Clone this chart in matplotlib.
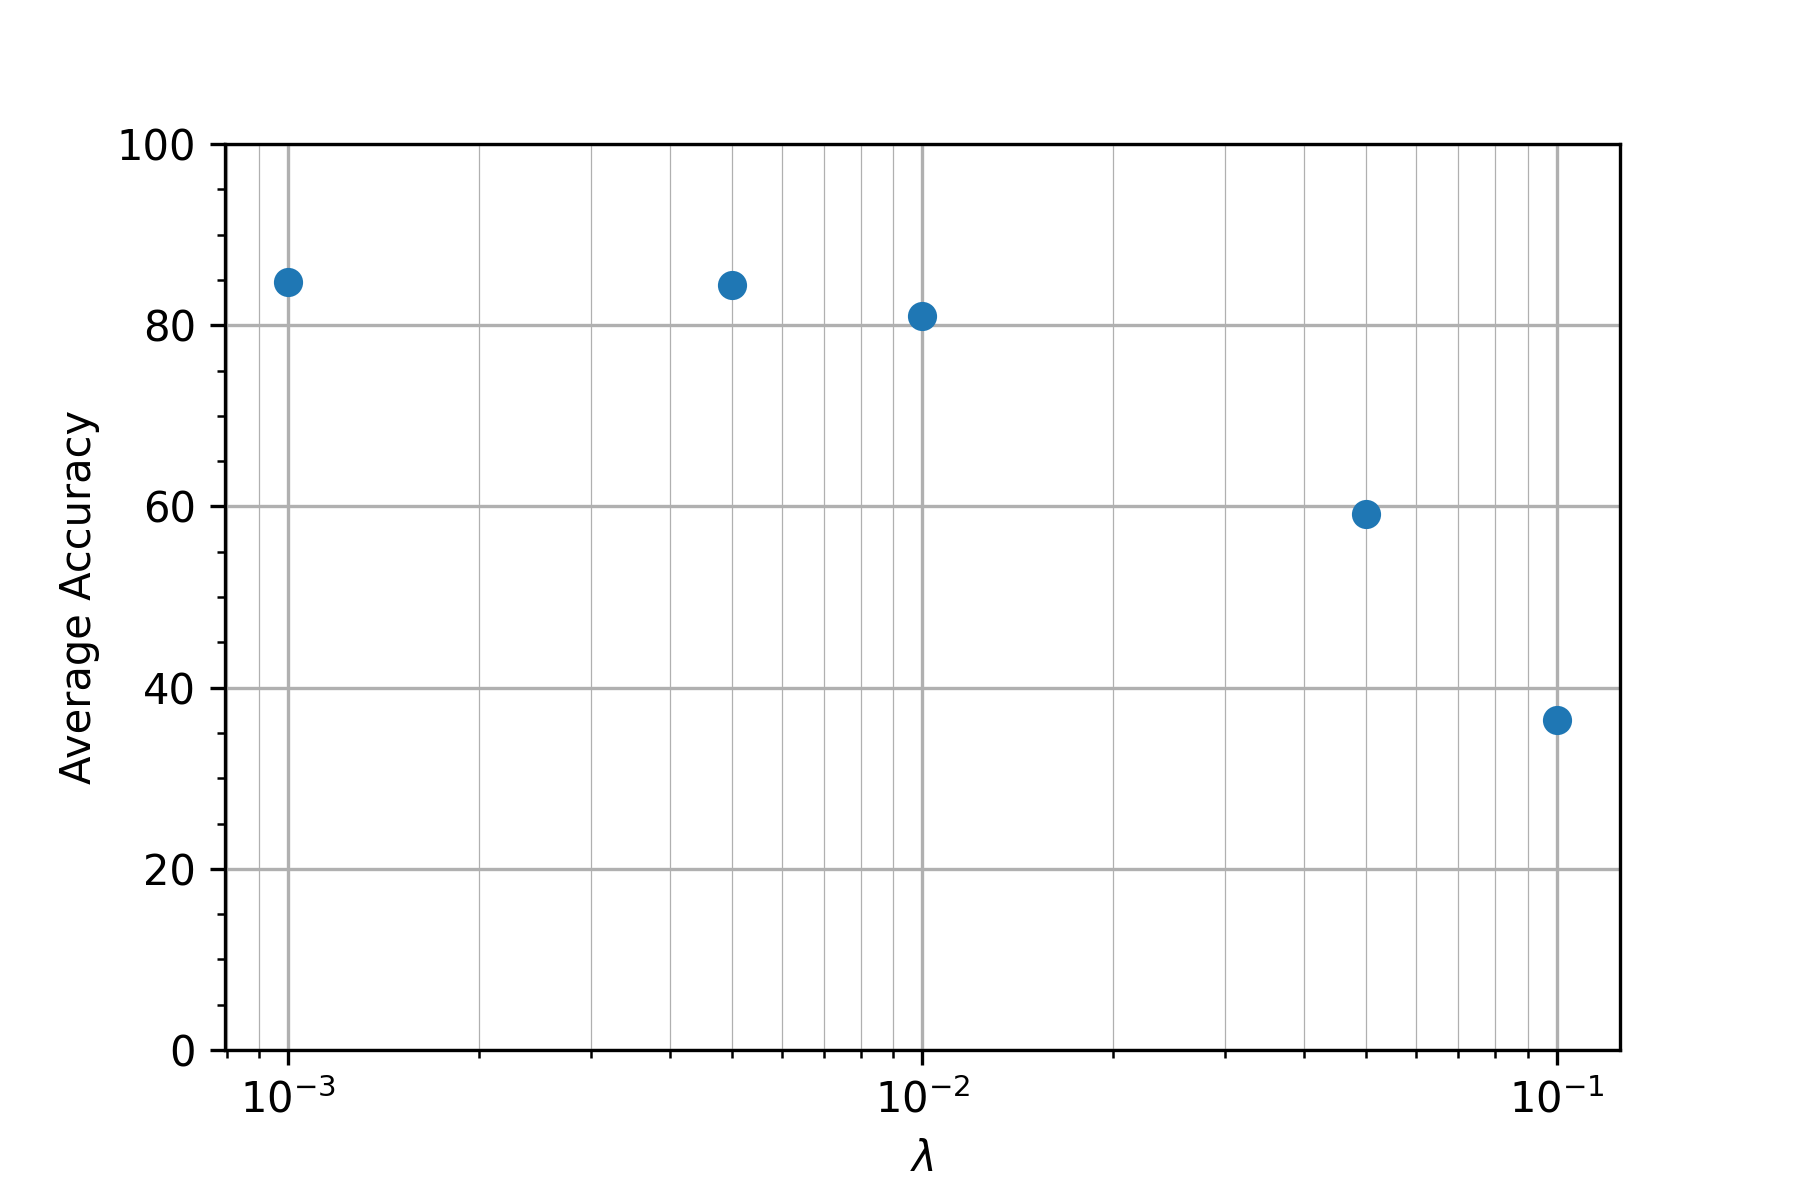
import matplotlib
matplotlib.use("Agg")
import matplotlib.pyplot as plt
from matplotlib.ticker import MultipleLocator

lambdas = [0.001, 0.005, 0.01, 0.05, 0.1]
accuracy = [84.8, 84.4, 81.0, 59.2, 36.4]

fig, ax = plt.subplots(figsize=(6, 4), dpi=300)
ax.scatter(lambdas, accuracy)
ax.set_xscale('log')
ax.set_ylim(0, 100)
ax.yaxis.set_minor_locator(MultipleLocator(5))
ax.grid(True, which='major')
ax.grid(True, which='minor', axis='x', linewidth=0.3)
ax.set_axisbelow(True)
ax.set_xlabel(r'$\lambda$')
ax.set_ylabel('Average Accuracy')
fig.subplots_adjust(bottom=0.125)
fig.savefig('out.png', dpi=300)
